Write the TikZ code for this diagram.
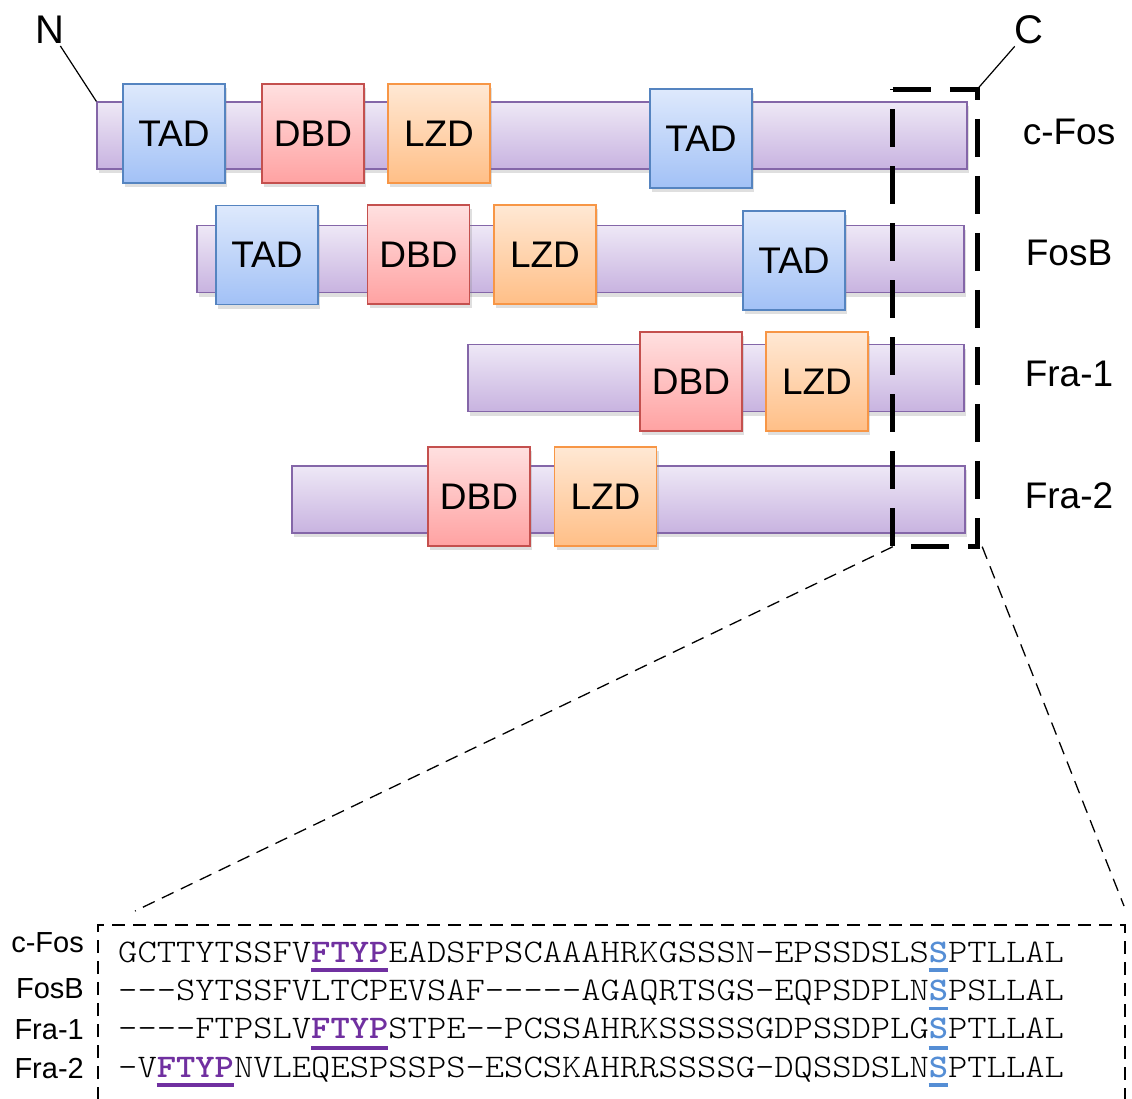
\documentclass[tikz,border=0pt]{standalone}
\usepackage{fontspec}
\setmainfont{Liberation Sans}
\newfontfamily\seqfont{lmmonolt10-regular.otf}[BoldFont=lmmonolt10-bold.otf,FakeStretch=1.114]
\usetikzlibrary{shadows}
\definecolor{barfill1}{HTML}{EEE8F6}
\definecolor{barfill2}{HTML}{C8B3E0}
\definecolor{bardraw}{HTML}{8466A8}
\definecolor{tad1}{HTML}{DEE9FC}
\definecolor{tad2}{HTML}{A2C1F6}
\definecolor{taddraw}{HTML}{5584C0}
\definecolor{dbd1}{HTML}{FFE0E0}
\definecolor{dbd2}{HTML}{FFA2A2}
\definecolor{dbddraw}{HTML}{C4504E}
\definecolor{lzd1}{HTML}{FFE8D4}
\definecolor{lzd2}{HTML}{FFBF87}
\definecolor{lzddraw}{HTML}{F79646}
\definecolor{motif}{HTML}{7030A0}
\definecolor{site}{HTML}{558ED5}
\tikzset{
  shad/.style={drop shadow={opacity=0.25,shadow xshift=2pt,shadow yshift=-4pt}},
  bar/.style={shad,draw=bardraw,line width=1.3pt,top color=barfill1,bottom color=barfill2,minimum height=67pt,inner sep=0pt},
  dom/.style={shad,line width=1.5pt,minimum width=102pt,minimum height=99pt,inner sep=0pt,font=\fontsize{37}{42}\selectfont},
  tad/.style={dom,draw=taddraw,top color=tad1,bottom color=tad2},
  dbd/.style={dom,draw=dbddraw,top color=dbd1,bottom color=dbd2},
  lzd/.style={dom,draw=lzddraw,top color=lzd1,bottom color=lzd2},
  rlab/.style={font=\fontsize{37}{42}\selectfont},
  endlab/.style={font=\fontsize{40}{46}\selectfont,inner sep=2pt},
  slab/.style={font=\fontsize{29}{33}\selectfont,anchor=east,inner sep=0pt},
  seq/.style={font=\seqfont\fontsize{33}{38}\selectfont,anchor=base west,inner sep=0pt},
  uline/.style={line width=3.5pt},
  thickdash/.style={line width=5pt,dash pattern=on 38pt off 19pt},
  thindash/.style={line width=1.3pt,dash pattern=on 13pt off 8pt},
}
\newcommand{\mot}[1]{{\bfseries\color{motif}#1}}
\newcommand{\sit}[1]{{\bfseries\color{site}#1}}
\begin{document}
\begin{tikzpicture}[x=1pt,y=-1pt]
\useasboundingbox (0,0) rectangle (1132,1098);
% bars
\node[bar,minimum width=870pt] (cfos) at (532,135.5) {};
\node[bar,minimum width=767pt] (fosb) at (580.5,259) {};
\node[bar,minimum width=496pt] (fra1) at (716,378) {};
\node[bar,minimum width=673pt] (fra2) at (628.5,499.5) {};
% domains
\node[tad] (cfosT1) at (174,133.5) {TAD};
\node[dbd] (cfosD) at (313,133.5) {DBD};
\node[lzd] (cfosL) at (439,133.5) {LZD};
\node[tad] (cfosT2) at (701,138.5) {TAD};
\node[tad] (fosbT1) at (267,255) {TAD};
\node[dbd] (fosbD) at (418.5,254.5) {DBD};
\node[lzd] (fosbL) at (545,254.5) {LZD};
\node[tad] (fosbT2) at (794,260.5) {TAD};
\node[dbd] (fra1D) at (691,381.5) {DBD};
\node[lzd] (fra1L) at (817,381.5) {LZD};
\node[dbd] (fra2D) at (479,496.5) {DBD};
\node[lzd] (fra2L) at (605.5,496.5) {LZD};
% right labels
\node[rlab] (lcfos) at (1069,132) {c-Fos};
\node[rlab] (lfosb) at (1069,253) {FosB};
\node[rlab] (lfra1) at (1069,374) {Fra-1};
\node[rlab] (lfra2) at (1069,496) {Fra-2};
% N and C
\node[endlab] (Nlab) at (50,30) {N};
\node[endlab] (Clab) at (1029,30) {C};
\draw[line width=1.2pt] (Nlab) -- (cfos.north west);
% zoom box
\node[minimum width=84pt,minimum height=457pt,inner sep=0pt] (zoombox) at (935,318) {};
\draw[thickdash] (zoombox.north west) -- (zoombox.north east) -- (zoombox.south east) -- (zoombox.south west) -- cycle;
\draw[line width=1.2pt] (Clab) -- (zoombox.north east);
% sequence box
\coordinate (sbl) at (98,1100);
\coordinate (stl) at (98,925);
\coordinate (str) at (1125,925);
\coordinate (sbr) at (1125,1100);
\draw[thindash] (sbl) -- (stl) -- (str) -- (sbr);
\coordinate (zl) at (135,911);
\coordinate (zr) at (1124,906);
\draw[thindash] (zoombox.south west) -- (zl);
\draw[thindash] ([xshift=5pt]zoombox.south east) -- (zr);
% sequence labels
\node[slab] (scfos) at (84,943) {c-Fos};
\node[slab] (sfosb) at (84,989) {FosB};
\node[slab] (sfra1) at (84,1030) {Fra-1};
\node[slab] (sfra2) at (84,1069) {Fra-2};
% sequences
\node[seq] (q1) at (118,962) {GCTTYTSSFV\mot{FTYP}EADSFPSCAAAHRKGSSSN-EPSSDSLS\sit{S}PTLLAL};
\node[seq] (q2) at (118,1000) {---SYTSSFVLTCPEVSAF-----AGAQRTSGS-EQPSDPLN\sit{S}PSLLAL};
\node[seq] (q3) at (118,1038) {----FTPSLV\mot{FTYP}STPE--PCSSAHRKSSSSSGDPSSDPLG\sit{S}PTLLAL};
\node[seq] (q4) at (118,1077) {-V\mot{FTYP}NVLEQESPSSPS-ESCSKAHRRSSSSG-DQSSDSLN\sit{S}PTLLAL};
% underlines
\draw[uline,motif] (311,970) -- (388,970);
\draw[uline,motif] (311,1048) -- (388,1048);
\draw[uline,motif] (156.6,1085) -- (233.8,1085);
\draw[uline,site] (928.6,970) -- (948,970);
\draw[uline,site] (928.6,1008.5) -- (948,1008.5);
\draw[uline,site] (928.6,1048) -- (948,1048);
\draw[uline,site] (928.6,1085) -- (948,1085);
\end{tikzpicture}
\end{document}
